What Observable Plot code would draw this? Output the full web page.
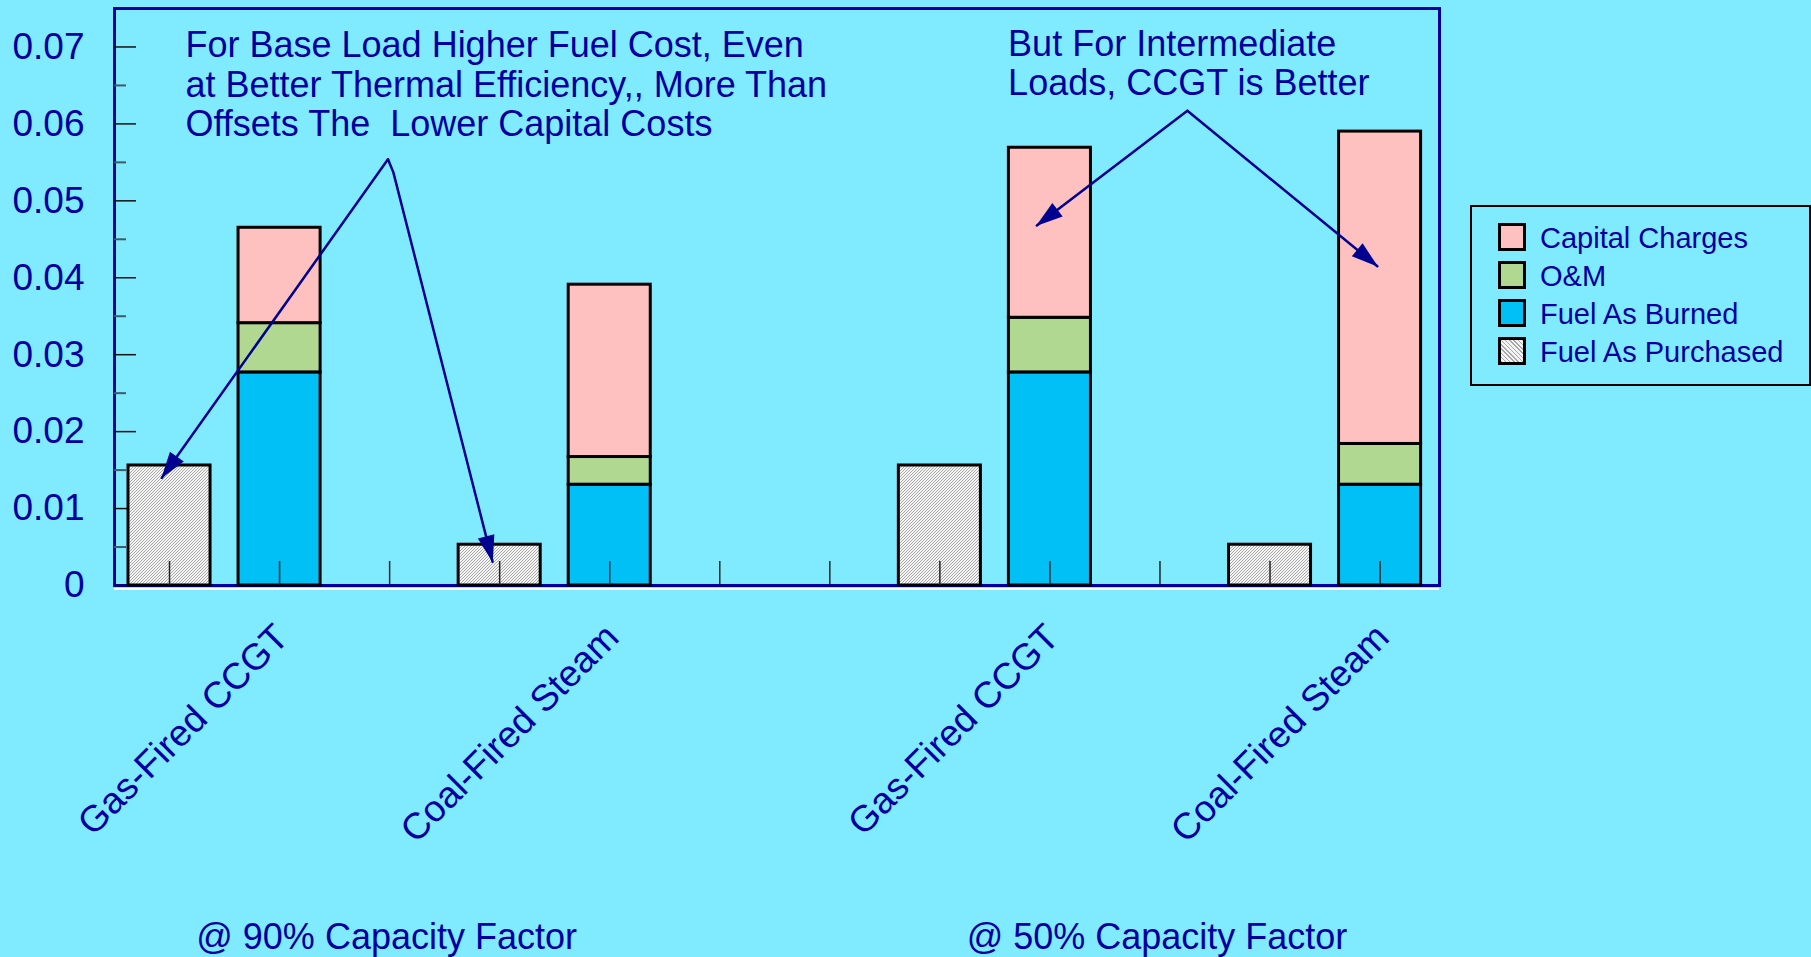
<!DOCTYPE html>
<html>
<head>
<meta charset="utf-8">
<script src="https://cdn.jsdelivr.net/npm/d3@7"></script>
<script src="https://cdn.jsdelivr.net/npm/@observablehq/plot@0.6"></script>
<style>
  html, body { margin: 0; padding: 0; background: #80EAFF; }
  #chart { position: relative; width: 1811px; height: 957px; font-family: "Liberation Sans", Arial, sans-serif; }
  #legend { position: absolute; left: 1470px; top: 205px; width: 341px; height: 181px; box-sizing: border-box; border: 2px solid #000; }
  #legend .row { position: absolute; left: 26px; height: 28px; display: flex; align-items: center; }
  #legend .sw { width: 28px; height: 28px; box-sizing: border-box; border: 3px solid #000; flex: none; }
  #legend .lab { margin-left: 14px; font-size: 29px; line-height: 28px; color: #0000A0; padding-top: 2px; white-space: nowrap; }
</style>
</head>
<body>
<div id="chart"></div>
<script>
// Generation cost per kWh, split into components, for two plant types at two capacity factors
const plants = ["Gas-Fired CCGT", "Coal-Fired Steam", "Gas-Fired CCGT", "Coal-Fired Steam"];
const capacityCases = ["@ 90% Capacity Factor", "@ 50% Capacity Factor"];
const fuelAsPurchased = [0.0156, 0.0053, 0.0156, 0.0053];
const fuelAsBurned = [0.0277, 0.0131, 0.0277, 0.0131];
const omCost = [0.0064, 0.0036, 0.0071, 0.0053];
const capitalCharges = [0.0124, 0.0224, 0.0221, 0.0406];

const components = ["Capital Charges", "O&M", "Fuel As Burned", "Fuel As Purchased"];
const yTicks = [0, 0.01, 0.02, 0.03, 0.04, 0.05, 0.06, 0.07];
const yTickLabels = ["0", "0.01", "0.02", "0.03", "0.04", "0.05", "0.06", "0.07"];
const yMinorTicks = [0.005, 0.015, 0.025, 0.035, 0.045, 0.055, 0.065];

const notes = [
  "For Base Load Higher Fuel Cost, Even\nat Better Thermal Efficiency,, More Than\nOffsets The  Lower Capital Costs",
  "But For Intermediate\nLoads, CCGT is Better"
];

// Layout: twelve category slots along x; each plant uses a purchased-fuel slot and a stacked slot
const purchasedSlot = [0, 3, 7, 10];
const stackedSlot = [1, 4, 8, 11];
const caseSlot = [2, 9];
const slotTicks = d3.range(12);

// Callout text anchors (slot units, $/kWh) and arrow paths
const noteAnchors = [[0.145, 0.0584], [7.62, 0.0637]];
const calloutPaths = [
  [[1.985, 0.0554], [-0.07, 0.0140]],
  [[1.985, 0.0554], [2.034, 0.0537], [2.935, 0.0031]],
  [[9.249, 0.0617], [7.881, 0.0468]],
  [[9.249, 0.0617], [10.975, 0.0415]]
];

// Styles
const ink = "#0000A0";
const componentColors = ["#FFC0C0", "#B0D890", "#00C0F5", "url(#hatch)"];
const legendSwatches = ["#FFC0C0", "#B0D890", "#00C0F5",
  "repeating-linear-gradient(45deg, #a8a8a8 0px, #a8a8a8 1px, #f4f4f4 1px, #f4f4f4 3px)"];

const stackRows = plants.flatMap((p, i) => [
  {slot: stackedSlot[i], component: "Fuel As Burned", value: fuelAsBurned[i]},
  {slot: stackedSlot[i], component: "O&M", value: omCost[i]},
  {slot: stackedSlot[i], component: "Capital Charges", value: capitalCharges[i]}
]);
const purchasedRows = plants.map((p, i) => ({slot: purchasedSlot[i], component: "Fuel As Purchased", value: fuelAsPurchased[i]}));
const calloutRows = calloutPaths.flatMap((pts, k) => pts.map(([x, y]) => ({id: k, x, y})));

const chart = Plot.plot({
  width: 1811,
  height: 957,
  marginLeft: 114,
  marginRight: 372,
  marginTop: 8,
  marginBottom: 372,
  style: {background: "#80EAFF", fontFamily: "'Liberation Sans', Arial, sans-serif", overflow: "visible"},
  x: {domain: [-0.5, 11.54], label: null},
  y: {domain: [0, 0.075], label: null},
  color: {domain: components, range: componentColors},
  marks: [
    Plot.frame({stroke: ink, strokeWidth: 3}),
    Plot.ruleY([0], {stroke: "white", strokeWidth: 2, dy: 3.5}),
    // y axis: labels, major ticks and minor ticks drawn inward
    Plot.axisY({ticks: yTicks, tickSize: 0, tickPadding: 30, fontSize: 37, color: ink,
      tickFormat: d => yTickLabels[yTicks.indexOf(d)], label: null}),
    Plot.axisY({ticks: yTicks, tickSize: 22, dx: 22, stroke: "#111", strokeWidth: 1.5, tickFormat: () => "", label: null}),
    Plot.axisY({ticks: yMinorTicks, tickSize: 12, dx: 12, stroke: "#3b5c68", strokeWidth: 2, tickFormat: () => "", label: null}),
    // bars
    Plot.rectY(stackRows.concat(purchasedRows), {
      x1: d => d.slot - 0.5, x2: d => d.slot + 0.5, y: "value", fill: "component",
      stroke: "#000", strokeWidth: 3, insetLeft: 14, insetRight: 14
    }),
    // x ticks pointing up from the baseline
    Plot.axisX({ticks: slotTicks, tickSize: 24, dy: -24, stroke: "#222", strokeWidth: 1.5, tickFormat: () => "", label: null}),
    // plant labels
    Plot.text(plants, {x: (d, i) => stackedSlot[i], frameAnchor: "bottom", rotate: -45, textAnchor: "end",
      dx: 11, dy: 54, fontSize: 37, fill: ink}),
    // capacity factor captions
    Plot.text(capacityCases, {x: (d, i) => caseSlot[i], frameAnchor: "bottom", lineAnchor: "bottom",
      dx: -3, dy: 363, fontSize: 36, fill: ink}),
    // callout notes and arrows
    Plot.text(notes, {x: (d, i) => noteAnchors[i][0], y: (d, i) => noteAnchors[i][1], textAnchor: "start",
      lineAnchor: "bottom", lineHeight: 1.1, fontSize: 36, fill: ink}),
    Plot.line(calloutRows, {x: "x", y: "y", z: "id", stroke: "#000090", strokeWidth: 2.5, className: "callout"})
  ]
});

// Hatch pattern for purchased fuel bars and filled arrowheads for callouts
const defs = document.createElementNS("http://www.w3.org/2000/svg", "defs");
defs.innerHTML = `
  <pattern id="hatch" width="3" height="3" patternUnits="userSpaceOnUse">
    <rect width="3" height="3" fill="#f4f4f4"></rect>
    <path d="M0,3L3,0M-1,1L1,-1M2,4L4,2" stroke="#a8a8a8" stroke-width="1"></path>
  </pattern>
  <marker id="head" viewBox="-28 -10 30 20" refX="0" refY="0" markerWidth="30" markerHeight="20"
          markerUnits="userSpaceOnUse" orient="auto">
    <path d="M1,0L-26,-8.5L-26,8.5Z" fill="#000090"></path>
  </marker>`;
chart.insertBefore(defs, chart.firstChild);
chart.querySelectorAll(".callout path").forEach(p => p.setAttribute("marker-end", "url(#head)"));

const root = document.getElementById("chart");
root.appendChild(chart);

// Legend
const legend = document.createElement("div");
legend.id = "legend";
components.forEach((c, i) => {
  const row = document.createElement("div");
  row.className = "row";
  row.style.top = (15.5 + i * 38.3) + "px";
  const sw = document.createElement("div");
  sw.className = "sw";
  sw.style.background = legendSwatches[i];
  const lab = document.createElement("span");
  lab.className = "lab";
  lab.textContent = c;
  row.appendChild(sw);
  row.appendChild(lab);
  legend.appendChild(row);
});
root.appendChild(legend);
</script>
</body>
</html>
